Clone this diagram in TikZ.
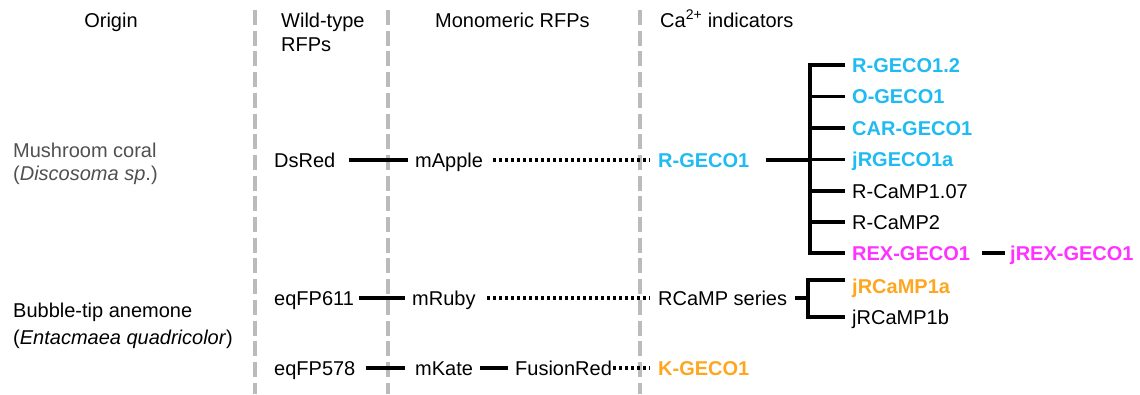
\documentclass[tikz,border=0pt]{standalone}
\usepackage{fontspec}
\setmainfont{Liberation Sans}
\definecolor{cy}{HTML}{1FBBF2}
\definecolor{mg}{HTML}{FF33FF}
\definecolor{og}{HTML}{FFA620}
\definecolor{gl}{HTML}{BBBBBB}
\definecolor{gt}{HTML}{505050}
\begin{document}
\begin{tikzpicture}[x=1pt,y=-1pt,
  lbl/.style={inner sep=0pt, text height=14.4pt, text depth=0pt, anchor=west, font=\fontsize{20}{24}\selectfont},
  bl/.style={lbl, font=\fontsize{20}{24}\selectfont\bfseries},
  link/.style={line width=3.5pt},
  dots/.style={line width=3.5pt, dash pattern=on 3pt off 3pt},
  sep/.style={gl, line width=4.5pt, dash pattern=on 15pt off 5.7pt}]
\useasboundingbox (0,0) rectangle (1140,394);
% separators
\foreach \x in {255,388,640}{\draw[sep] (\x,10) -- (\x,394);}
% headers
\node[lbl, anchor=center] (origin) at (111,20) {Origin};
\node[lbl] (wt1) at (281,20) {Wild-type};
\node[lbl] (wt2) at (281,44) {RFPs};
\node[lbl] (mono) at (435,20) {Monomeric RFPs};
\node[lbl] (ca) at (660,20) {Ca\textsuperscript{2+} indicators};
% origin column
\node[lbl, gt] (mc1) at (13,150) {Mushroom coral};
\node[lbl, gt] (mc2) at (13,173) {(\textit{Discosoma sp}.)};
\node[lbl] (bt1) at (13,310) {Bubble-tip anemone};
\node[lbl] (bt2) at (13,337) {(\textit{Entacmaea quadricolor})};
% row 1
\node[lbl] (dsred) at (274,160) {DsRed};
\node[lbl] (mapple) at (415,160) {mApple};
\node[bl, cy] (rgeco) at (658,160) {R-GECO1};
\draw[link] ([xshift=13pt]dsred.east) -- ([xshift=-7pt]mapple.west);
\draw[dots] ([xshift=10pt]mapple.east) -- ([xshift=-8pt]rgeco.west);
% tree
\coordinate (tt) at (810,65);
\node[bl, cy] (g1) at (852,65) {R-GECO1.2};
\node[bl, cy] (g2) at (852,96.5) {O-GECO1};
\node[bl, cy] (g3) at (852,128) {CAR-GECO1};
\node[bl, cy] (g4) at (852,159.5) {jRGECO1a};
\node[lbl] (g5) at (852,191) {R-CaMP1.07};
\node[lbl] (g6) at (852,222) {R-CaMP2};
\node[bl, mg] (g7) at (852,253) {REX-GECO1};
\node[bl, mg] (jrex) at (1010,253) {jREX-GECO1};
\draw[link, shorten <=7pt, shorten >=7pt] (g1.west) -- (tt |- g1.west) -- (tt |- g7.west) -- (g7.west);
\foreach \n in {g2,g3,g4,g5,g6}{\draw[link, shorten >=7pt] (tt |- \n.west) -- (\n.west);}
\draw[link] ([xshift=16pt]rgeco.east) -- (tt |- rgeco.east);
\draw[link] ([xshift=12pt]g7.east) -- ([xshift=-5pt]jrex.west);
% row 2
\node[lbl] (eq611) at (274,298) {eqFP611};
\node[lbl] (mruby) at (412,298) {mRuby};
\node[lbl] (rcamp) at (658,298) {RCaMP series};
\draw[link] ([xshift=5pt]eq611.east) -- ([xshift=-7pt]mruby.west);
\draw[dots] ([xshift=11pt]mruby.east) -- ([xshift=-8pt]rcamp.west);
\coordinate (bt) at (808,280);
\coordinate (bb) at (808,317);
\node[bl, og] (jr1) at (852,286) {jRCaMP1a};
\node[lbl] (jr2) at (852,317) {jRCaMP1b};
\draw[link, shorten <=7pt, shorten >=7pt] (bt -| jr1.west) -- (bt) -- (bb) -- (jr2.west);
\draw[link] ([xshift=8pt]rcamp.east) -- (bt |- rcamp.east);
% row 3
\node[lbl] (eq578) at (274,368) {eqFP578};
\node[lbl] (mkate) at (415,368) {mKate};
\node[lbl] (fred) at (515,368) {FusionRed};
\node[bl, og] (kgeco) at (658,368) {K-GECO1};
\draw[link] ([xshift=10pt]eq578.east) -- ([xshift=-10pt]mkate.west);
\draw[link] ([xshift=7pt]mkate.east) -- ([xshift=-7pt]fred.west);
\draw[dots] ([xshift=1pt]fred.east) -- ([xshift=-8pt]kgeco.west);
\end{tikzpicture}
\end{document}
